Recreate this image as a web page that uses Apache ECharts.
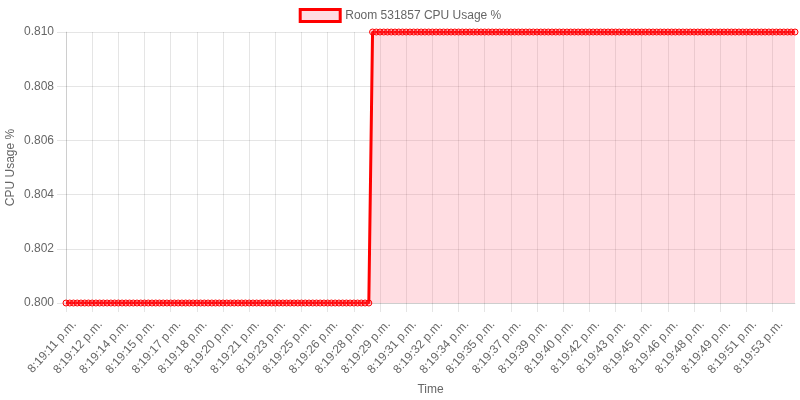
<!DOCTYPE html>
<html>
<head>
<meta charset="utf-8">
<script src="https://cdn.jsdelivr.net/npm/echarts@6/dist/echarts.min.js"></script>
<style>
  html, body { margin: 0; padding: 0; background: #fff; }
  #chart { width: 800px; height: 400px; }
</style>
</head>
<body>
<div id="chart"></div>
<script>
// Seconds part of each sample's timestamp (8:19:ss p.m.)
const seconds = [
  11,11,11,11,12,12,12, 12,12,13,13,13,13,13, 14,14,14,14,15,15,15, 15,15,16,16,16,16,16,
  17,17,17,17,18,18,18, 18,18,19,19,19,19,19, 20,20,20,20,21,21,21, 21,21,22,22,22,22,22,
  23,23,24,24,24,24,24, 25,25,25,25,26,26,26, 26,26,27,27,27,27,27, 28,28,28,28,29,29,29,
  29,29,30,30,30,30,30, 31,31,31,31,32,32,32, 32,32,33,33,33,33,33, 34,34,34,34,35,35,35,
  35,35,36,36,36,36,36, 37,37,38,38,38,38,38, 39,39,39,39,40,40,40, 40,40,41,41,41,41,41,
  42,42,42,42,43,43,43, 43,43,44,44,44,44,44, 45,45,45,45,46,46,46, 46,46,47,47,47,47,47,
  48,48,48,48,49,49,49, 49,49,50,50,50,50,50, 51,51,52,52,52,52,52, 53,53,53,53,54,54,54
];
const timeLabels = seconds.map(s => '8:19:' + s + ' p.m.');

// CPU usage values
const cpuUsage = [
  0.800,0.800,0.800,0.800,0.800,0.800,0.800,0.800,0.800,0.800,
  0.800,0.800,0.800,0.800,0.800,0.800,0.800,0.800,0.800,0.800,
  0.800,0.800,0.800,0.800,0.800,0.800,0.800,0.800,0.800,0.800,
  0.800,0.800,0.800,0.800,0.800,0.800,0.800,0.800,0.800,0.800,
  0.800,0.800,0.800,0.800,0.800,0.800,0.800,0.800,0.800,0.800,
  0.800,0.800,0.800,0.800,0.800,0.800,0.800,0.800,0.800,0.800,
  0.800,0.800,0.800,0.800,0.800,0.800,0.800,0.800,0.800,0.800,
  0.800,0.800,0.800,0.800,0.800,0.800,0.800,0.800,0.800,0.800,
  0.800,0.800,
  0.810,0.810,0.810,0.810,0.810,0.810,0.810,0.810,0.810,0.810,
  0.810,0.810,0.810,0.810,0.810,0.810,0.810,0.810,0.810,0.810,
  0.810,0.810,0.810,0.810,0.810,0.810,0.810,0.810,0.810,0.810,
  0.810,0.810,0.810,0.810,0.810,0.810,0.810,0.810,0.810,0.810,
  0.810,0.810,0.810,0.810,0.810,0.810,0.810,0.810,0.810,0.810,
  0.810,0.810,0.810,0.810,0.810,0.810,0.810,0.810,0.810,0.810,
  0.810,0.810,0.810,0.810,0.810,0.810,0.810,0.810,0.810,0.810,
  0.810,0.810,0.810,0.810,0.810,0.810,0.810,0.810,0.810,0.810,
  0.810,0.810,0.810,0.810,0.810,0.810,0.810,0.810,0.810,0.810,
  0.810,0.810,0.810,0.810,0.810,0.810,0.810,0.810,0.810,0.810,
  0.810,0.810,0.810,0.810,0.810,0.810,0.810,0.810,0.810,0.810,
  0.810,0.810,0.810,0.810
];

const seriesName = 'Room 531857 CPU Usage %';
const yMin = 0.800, yMax = 0.810, yStep = 0.002;

const FONT = "'Liberation Sans', Arial, Helvetica, sans-serif";
const TXT = '#666';
const GRID = 'rgba(0,0,0,0.1)';
const LINE = 'rgb(255,0,0)';
const FILL = 'rgba(255,85,110,0.2)';

const chart = echarts.init(document.getElementById('chart'), null, { renderer: 'canvas' });
chart.setOption({
  animation: false,
  textStyle: { fontFamily: FONT },
  legend: {
    top: 3,
    left: 'center',
    itemWidth: 40,
    itemHeight: 12,
    itemGap: 10,
    textStyle: { color: TXT, fontSize: 12, fontFamily: FONT },
    data: [{
      name: seriesName,
      icon: 'rect',
      itemStyle: { color: FILL, borderColor: LINE, borderWidth: 3, opacity: 1 }
    }]
  },
  grid: { left: 66, right: 5, top: 32, bottom: 97, containLabel: false, outerBoundsMode: 'none' },
  xAxis: {
    type: 'category',
    data: timeLabels,
    boundaryGap: false,
    name: 'Time',
    nameLocation: 'middle',
    nameGap: 81,
    nameMoveOverlap: false,
    nameTextStyle: { color: TXT, fontSize: 12, fontFamily: FONT },
    axisLine: { show: true, lineStyle: { color: GRID, width: 1 } },
    axisTick: { show: true, interval: 6, length: 9, lineStyle: { color: GRID } },
    splitLine: { show: true, interval: 6, lineStyle: { color: GRID, width: 1 } },
    axisLabel: { interval: 6, rotate: 48, margin: 12, verticalAlign: 'top', padding: [5, 0, 0, 0], color: TXT, fontSize: 12, fontFamily: FONT }
  },
  yAxis: {
    type: 'value',
    min: yMin,
    max: yMax,
    interval: yStep,
    name: 'CPU Usage %',
    nameLocation: 'middle',
    nameGap: 49,
    nameMoveOverlap: false,
    nameTextStyle: { color: TXT, fontSize: 12, fontFamily: FONT },
    axisLine: { show: true, lineStyle: { color: GRID, width: 1 } },
    axisTick: { show: true, length: 9, lineStyle: { color: GRID } },
    splitLine: { show: true, lineStyle: { color: GRID, width: 1 } },
    axisLabel: { color: TXT, fontSize: 12, fontFamily: FONT, margin: 12, formatter: v => v.toFixed(3) }
  },
  series: [{
    name: seriesName,
    type: 'line',
    data: cpuUsage,
    showAllSymbol: true,
    symbol: 'circle',
    symbolSize: 6,
    itemStyle: { color: FILL, borderColor: LINE, borderWidth: 1 },
    lineStyle: { color: LINE, width: 3 },
    areaStyle: { color: FILL, origin: 'start', opacity: 1 },
    emphasis: { disabled: true }
  }]
});
</script>
</body>
</html>
